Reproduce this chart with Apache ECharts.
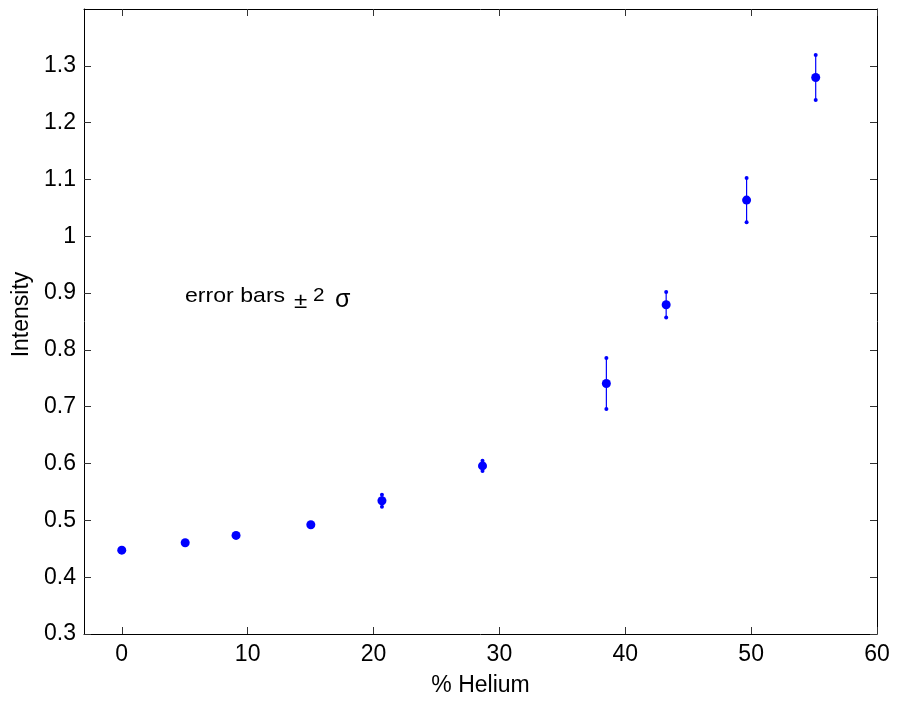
<!DOCTYPE html>
<html>
<head>
<meta charset="utf-8">
<script src="https://cdn.jsdelivr.net/npm/echarts@6/dist/echarts.min.js"></script>
<style>
html,body{margin:0;padding:0;background:#fff;}
#chart{width:898px;height:702px;}
</style>
</head>
<body>
<div id="chart"></div>
<script>
// ---- data ----
var helium    = [0, 5.04, 9.08, 15.02, 20.67, 28.66, 38.5, 43.25, 49.64, 55.13];
var intensity = [0.4476, 0.4605, 0.4735, 0.4922, 0.5345, 0.5958, 0.7408, 0.8795, 1.0637, 1.2795];
var errHalf   = [0.002, 0.002, 0.002, 0.002, 0.0105, 0.009, 0.045, 0.0225, 0.0388, 0.0395];
var xTicks = [0, 10, 20, 30, 40, 50, 60];
var yTicks = [0.3, 0.4, 0.5, 0.6, 0.7, 0.8, 0.9, 1, 1.1, 1.2, 1.3];

var FONT = '"Liberation Sans", Arial, Helvetica, sans-serif';
var BLUE = '#0000ff';

var points = helium.map(function (h, i) { return [h, intensity[i]]; });
var bars = helium.map(function (h, i) { return [h, intensity[i] - errHalf[i], intensity[i] + errHalf[i]]; });

var chart = echarts.init(document.getElementById('chart'), null, {renderer: 'canvas'});

function axisBase(pos, show) {
  return {
    position: pos,
    axisLine: {show: true, onZero: false, lineStyle: {color: '#000', width: 1}},
    splitLine: {show: false},
    axisTick: {show: true, inside: true, length: 7, lineStyle: {color: '#333', width: 1}},
    axisLabel: {show: show, color: '#000', fontFamily: FONT, fontSize: 23}
  };
}

var xb = axisBase('bottom', true);
var xt = axisBase('top', false);
var yl = axisBase('left', true);
var yr = axisBase('right', false);
[xb, xt].forEach(function (a) {
  a.type = 'value'; a.min = -3; a.max = 60;
  a.axisTick.customValues = xTicks;
  a.axisLabel.customValues = xTicks;
});
[yl, yr].forEach(function (a) {
  a.type = 'value'; a.min = 0.3; a.max = 1.4;
  a.axisTick.customValues = yTicks;
  a.axisLabel.customValues = yTicks;
});
xb.axisLabel.margin = 9;
yl.axisLabel.margin = 8;
xb.name = '% Helium';
xb.nameLocation = 'middle';
xb.nameGap = 40;
xb.nameTextStyle = {color: '#000', fontFamily: FONT, fontSize: 23};
yl.name = 'Intensity';
yl.nameLocation = 'middle';
yl.nameRotate = 90;
yl.nameGap = 50;
yl.nameTextStyle = {color: '#000', fontFamily: FONT, fontSize: 23, padding: [0, 0, 0, 14]};

var option = {
  backgroundColor: '#fff',
  animation: false,
  grid: {left: 84, right: 21, top: 9, bottom: 68, containLabel: false},
  xAxis: [xb, xt],
  yAxis: [yl, yr],
  series: [
    {
      type: 'custom',
      xAxisIndex: 0, yAxisIndex: 0,
      data: bars,
      renderItem: function (params, api) {
        var lo = api.coord([api.value(0), api.value(1)]);
        var hi = api.coord([api.value(0), api.value(2)]);
        return {
          type: 'group',
          children: [
            {type: 'line', shape: {x1: hi[0], y1: hi[1], x2: lo[0], y2: lo[1]},
             style: {stroke: BLUE, lineWidth: 1.2}},
            {type: 'circle', shape: {cx: hi[0], cy: hi[1], r: 2}, style: {fill: BLUE}},
            {type: 'circle', shape: {cx: lo[0], cy: lo[1], r: 2}, style: {fill: BLUE}}
          ]
        };
      },
      z: 2
    },
    {
      type: 'scatter',
      xAxisIndex: 0, yAxisIndex: 0,
      data: points,
      symbol: 'circle',
      symbolSize: 9,
      itemStyle: {color: BLUE, opacity: 1},
      z: 3
    }
  ],
  graphic: [
    {type: 'text', x: 185, y: 296, scaleX: 1.1,
     style: {text: 'error bars', fill: '#000', font: '21px ' + FONT, verticalAlign: 'middle', align: 'left'}},
    {type: 'text', x: 294, y: 302.4, scaleX: 1.1,
     style: {text: '\u00b1', fill: '#000', font: '22px ' + FONT, verticalAlign: 'middle', align: 'left'}},
    {type: 'text', x: 313, y: 296.5, scaleX: 1.15,
     style: {text: '2', fill: '#000', font: '18px ' + FONT, verticalAlign: 'middle', align: 'left'}},
    {type: 'text', x: 335, y: 300,
     style: {text: '\u03c3', fill: '#000', font: '25px ' + FONT, verticalAlign: 'middle', align: 'left'}}
  ]
};
chart.setOption(option);
</script>
</body>
</html>
